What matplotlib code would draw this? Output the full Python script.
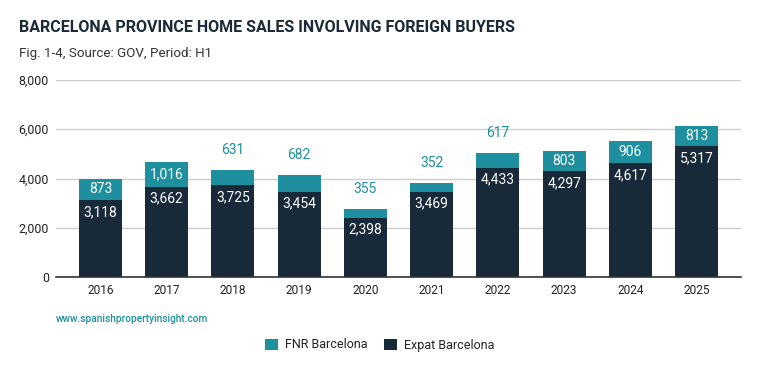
import matplotlib
matplotlib.use("Agg")
import matplotlib.pyplot as plt
from matplotlib.patches import Patch
from matplotlib.ticker import FuncFormatter

plt.rcParams['font.family'] = ['Roboto', 'DejaVu Sans']

years = ['2016', '2017', '2018', '2019', '2020', '2021', '2022', '2023', '2024', '2025']
expat = [3118, 3662, 3725, 3454, 2398, 3469, 4433, 4297, 4617, 5317]
fnr = [873, 1016, 631, 682, 355, 352, 617, 803, 906, 813]

TEAL = '#1e8f9f'
NAVY = '#182a3a'
W, H = 759, 371

fig = plt.figure(figsize=(W / 100, H / 100), dpi=100)
ax = fig.add_axes([56 / W, (H - 277) / H, (741 - 56) / W, (277 - 80) / H])

x = list(range(len(years)))
ax.bar(x, expat, width=0.65, color=NAVY, zorder=3)
ax.bar(x, fnr, width=0.65, bottom=expat, color=TEAL, zorder=3)

ax.set_xlim(-0.67, len(years) - 1 + 0.67)
ax.set_ylim(0, 8000)
ax.set_yticks([0, 2000, 4000, 6000, 8000])
ax.yaxis.set_major_formatter(FuncFormatter(lambda v, p: f'{int(v):,}'))
ax.set_xticks(x)
ax.set_xticklabels(years)
ax.tick_params(axis='both', length=0, labelcolor='#222222')
ax.tick_params(axis='x', pad=5, labelsize=8.6)
ax.tick_params(axis='y', pad=5, labelsize=8.9)
ax.grid(axis='y', color='#cccccc', linewidth=1, zorder=0)
for s in ['top', 'right', 'left']:
    ax.spines[s].set_visible(False)
ax.spines['bottom'].set_color('#333333')
ax.spines['bottom'].set_linewidth(1.2)
ax.spines['bottom'].set_zorder(4)

for i in x:
    ax.annotate(f'{expat[i]:,}', (i, expat[i]), xytext=(0, -8.5), textcoords='offset points',
                ha='center', va='center', color='white', fontsize=10, zorder=5)
    if fnr[i] >= 750:
        ax.annotate(f'{fnr[i]:,}', (i, expat[i] + fnr[i] / 2), ha='center', va='center',
                    color='white', fontsize=10, zorder=5)
    else:
        ax.annotate(f'{fnr[i]:,}', (i, expat[i] + fnr[i]), xytext=(0, 14.5), textcoords='offset points',
                    ha='center', va='center', color=TEAL, fontsize=10, zorder=5)

fig.text(19 / W, 1 - 27 / H, 'BARCELONA PROVINCE HOME SALES INVOLVING FOREIGN BUYERS',
         fontsize=11.5, fontweight='bold', color='#1b2a38', va='center', ha='left')
fig.text(19 / W, 1 - 54 / H, 'Fig. 1-4, Source: GOV, Period: H1',
         fontsize=9.6, color='#333333', va='center', ha='left')
fig.text(56 / W, 1 - 319 / H, 'www.spanishpropertyinsight.com',
         fontsize=7.3, fontweight='medium', color=TEAL, va='center', ha='left')

handles = [Patch(facecolor=TEAL, edgecolor='none'), Patch(facecolor=NAVY, edgecolor='none')]
fig.legend(handles, ['FNR Barcelona', 'Expat Barcelona'], loc='center', bbox_to_anchor=(380 / W, 1 - 345 / H),
           ncol=2, frameon=False, fontsize=9.0, handlelength=1.0, handleheight=1.0,
           handletextpad=0.6, columnspacing=1.3, labelcolor='#222222')

fig.savefig('out.png', dpi=100)
